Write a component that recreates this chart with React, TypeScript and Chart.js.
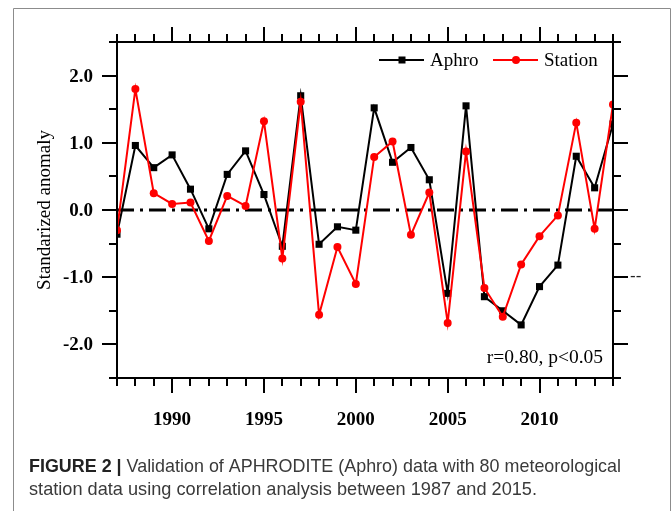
import React, { useEffect, useRef } from "react";
import { Chart, registerables } from "chart.js";

Chart.register(...registerables);

// ---------- data ----------
const years = [
  1987, 1988, 1989, 1990, 1991, 1992, 1993, 1994, 1995, 1996, 1997, 1998, 1999, 2000,
  2001, 2002, 2003, 2004, 2005, 2006, 2007, 2008, 2009, 2010, 2011, 2012, 2013, 2014,
];
const aphro = [
  -0.36, 0.96, 0.63, 0.82, 0.31, -0.28, 0.53, 0.88, 0.23, -0.54, 1.7, -0.51, -0.25, -0.3,
  1.52, 0.71, 0.93, 0.45, -1.24, 1.55, -1.29, -1.5, -1.71, -1.14, -0.82, 0.8, 0.33, 1.28,
];
const station = [
  -0.3, 1.8, 0.25, 0.09, 0.11, -0.46, 0.21, 0.06, 1.32, -0.72, 1.61, -1.56, -0.55, -1.1,
  0.79, 1.02, -0.37, 0.26, -1.68, 0.87, -1.16, -1.59, -0.81, -0.39, -0.08, 1.3, -0.28, 1.57,
];
const seriesNames = ["Aphro", "Station"];
const xMinorTicks = years;
const xMajorTicks = [1990, 1995, 2000, 2005, 2010];
const xTickLabels = ["1990", "1995", "2000", "2005", "2010"];
const yMinorTicks = [-2.5, -2, -1.5, -1, -0.5, 0, 0.5, 1, 1.5, 2, 2.5];
const yMajorTicks = [-2, -1, 0, 1, 2];
const yTickLabels = ["-2.0", "-1.0", "0.0", "1.0", "2.0"];
const yTitle = "Standarized anomaly";
const annotationText = "r=0.80, p<0.05";
const captionBold = "FIGURE 2 |";
const captionLine1 = " Validation of APHRODITE (Aphro) data with 80 meteorological";
const captionLine2 = "station data using correlation analysis between 1987 and 2015.";

const SERIF = "'Liberation Serif', 'Times New Roman', serif";
const SANS = "'Liberation Sans', Arial, sans-serif";

const figurePlugin = {
  id: "figureDecor",
  beforeDraw(chart: any) {
    const ctx = chart.ctx;
    ctx.save();
    ctx.fillStyle = "#ffffff";
    ctx.fillRect(0, 0, chart.width, chart.height);
    ctx.strokeStyle = "#8c8c8c";
    ctx.lineWidth = 1;
    ctx.beginPath();
    ctx.moveTo(13.5, chart.height);
    ctx.lineTo(13.5, 8.5);
    ctx.lineTo(670.5, 8.5);
    ctx.lineTo(670.5, chart.height);
    ctx.stroke();
    ctx.restore();
  },
  beforeDatasetsDraw(chart: any) {
    const ctx = chart.ctx;
    const { left, right } = chart.chartArea;
    const y0 = chart.scales.y.getPixelForValue(0);
    ctx.save();
    ctx.strokeStyle = "#000";
    ctx.lineWidth = 3;
    ctx.setLineDash([17, 6, 3, 6]);
    ctx.beginPath();
    ctx.moveTo(left, y0);
    ctx.lineTo(right, y0);
    ctx.stroke();
    ctx.restore();
  },
  afterDatasetsDraw(chart: any) {
    const ctx = chart.ctx;
    const xs = chart.scales.x;
    const ys = chart.scales.y;
    const { left, right, top, bottom } = chart.chartArea;
    const MAJ = 15;
    const MIN = 8;
    ctx.save();
    ctx.strokeStyle = "#000";
    ctx.lineWidth = 2;
    ctx.setLineDash([]);
    // box
    ctx.strokeRect(left, top, right - left, bottom - top);
    // x ticks (top & bottom)
    ctx.beginPath();
    xMinorTicks.forEach((v) => {
      const px = Math.round(xs.getPixelForValue(v));
      const len = xMajorTicks.includes(v) ? MAJ : MIN;
      ctx.moveTo(px, top);
      ctx.lineTo(px, top - len);
      ctx.moveTo(px, bottom);
      ctx.lineTo(px, bottom + len);
    });
    // y ticks (left & right)
    yMinorTicks.forEach((v) => {
      const py = Math.round(ys.getPixelForValue(v));
      const len = yMajorTicks.includes(v) ? MAJ : MIN;
      ctx.moveTo(left, py);
      ctx.lineTo(left - len, py);
      ctx.moveTo(right, py);
      ctx.lineTo(right + len, py);
    });
    ctx.stroke();

    // tick labels
    ctx.fillStyle = "#000";
    ctx.font = `bold 19px ${SERIF}`;
    ctx.textAlign = "right";
    ctx.textBaseline = "middle";
    yMajorTicks.forEach((v, i) => {
      ctx.fillText(yTickLabels[i], left - 24, ys.getPixelForValue(v) + 1);
    });
    ctx.textAlign = "center";
    xMajorTicks.forEach((v, i) => {
      ctx.fillText(xTickLabels[i], xs.getPixelForValue(v), 420);
    });

    // y title
    ctx.save();
    ctx.font = `19px ${SERIF}`;
    ctx.translate(45, ys.getPixelForValue(0));
    ctx.rotate(-Math.PI / 2);
    ctx.textAlign = "center";
    ctx.textBaseline = "middle";
    ctx.fillText(yTitle, 0, 0);
    ctx.restore();

    // legend
    const ly = 60;
    const colors = ["#000000", "#ff0000"];
    const lx = [379, 493];
    ctx.font = `19px ${SERIF}`;
    ctx.textAlign = "left";
    ctx.textBaseline = "middle";
    seriesNames.forEach((name, i) => {
      ctx.strokeStyle = colors[i];
      ctx.fillStyle = colors[i];
      ctx.lineWidth = 2;
      ctx.beginPath();
      ctx.moveTo(lx[i], ly);
      ctx.lineTo(lx[i] + 45, ly);
      ctx.stroke();
      const mx = lx[i] + 23;
      if (i === 0) {
        ctx.fillRect(mx - 3.5, ly - 3.5, 7, 7);
      } else {
        ctx.beginPath();
        ctx.arc(mx, ly, 4, 0, Math.PI * 2);
        ctx.fill();
      }
      ctx.fillStyle = "#000";
      ctx.fillText(name, lx[i] + 51, ly + 1);
    });

    // annotation
    ctx.textAlign = "right";
    ctx.textBaseline = "alphabetic";
    ctx.font = `19.5px ${SERIF}`;
    ctx.fillText(annotationText, 603, 363);

    // stray dashes at right
    ctx.textAlign = "left";
    ctx.textBaseline = "middle";
    ctx.font = `17px ${SANS}`;
    ctx.fillStyle = "#222";
    ctx.fillText("--", 630, ys.getPixelForValue(-1) - 1);

    // caption
    ctx.textBaseline = "alphabetic";
    ctx.textAlign = "left";
    ctx.font = `bold 19px ${SANS}`;
    const wb = ctx.measureText(captionBold).width;
    ctx.font = `19px ${SANS}`;
    const w1 = ctx.measureText(captionLine1).width;
    const w2 = ctx.measureText(captionLine2).width;
    const sx1 = 592 / (wb + w1);
    const sx2 = 508 / w2;
    ctx.save();
    ctx.translate(29, 472);
    ctx.scale(sx1, 1);
    ctx.font = `bold 19px ${SANS}`;
    ctx.fillStyle = "#222";
    ctx.fillText(captionBold, 0, 0);
    ctx.font = `19px ${SANS}`;
    ctx.fillStyle = "#3a3a3a";
    ctx.fillText(captionLine1, wb, 0);
    ctx.restore();
    ctx.save();
    ctx.translate(29, 495);
    ctx.scale(sx2, 1);
    ctx.font = `19px ${SANS}`;
    ctx.fillStyle = "#3a3a3a";
    ctx.fillText(captionLine2, 0, 0);
    ctx.restore();

    ctx.restore();
  },
};

export default function App() {
  const canvasRef = useRef<HTMLCanvasElement | null>(null);

  useEffect(() => {
    document.body.style.margin = "0";
    const canvas = canvasRef.current;
    if (!canvas) return;
    const chart = new Chart(canvas, {
      type: "line",
      data: {
        datasets: [
          {
            label: seriesNames[1],
            data: years.map((yr, i) => ({ x: yr, y: station[i] })),
            borderColor: "#ff0000",
            backgroundColor: "#ff0000",
            borderWidth: 2,
            pointStyle: "circle",
            pointRadius: 4,
            pointBorderWidth: 0,
            tension: 0,
            clip: 0,
          },
          {
            label: seriesNames[0],
            data: years.map((yr, i) => ({ x: yr, y: aphro[i] })),
            borderColor: "#000000",
            backgroundColor: "#000000",
            borderWidth: 2,
            pointStyle: "rect",
            pointRadius: 5,
            pointBorderWidth: 0,
            tension: 0,
            clip: 0,
          },
        ],
      },
      options: {
        responsive: false,
        animation: false,
        devicePixelRatio: 1,
        layout: { padding: { left: 117, top: 42, right: 59, bottom: 133 } },
        scales: {
          x: { type: "linear", min: 1987, max: 2014, display: false },
          y: { type: "linear", min: -2.5, max: 2.5, display: false },
        },
        plugins: {
          legend: { display: false },
          tooltip: { enabled: false },
        },
      },
      plugins: [figurePlugin],
    } as any);
    return () => chart.destroy();
  }, []);

  return (
    <div style={{ width: 672, height: 511 }}>
      <canvas ref={canvasRef} width={672} height={511} style={{ display: "block", width: 672, height: 511 }} />
    </div>
  );
}
